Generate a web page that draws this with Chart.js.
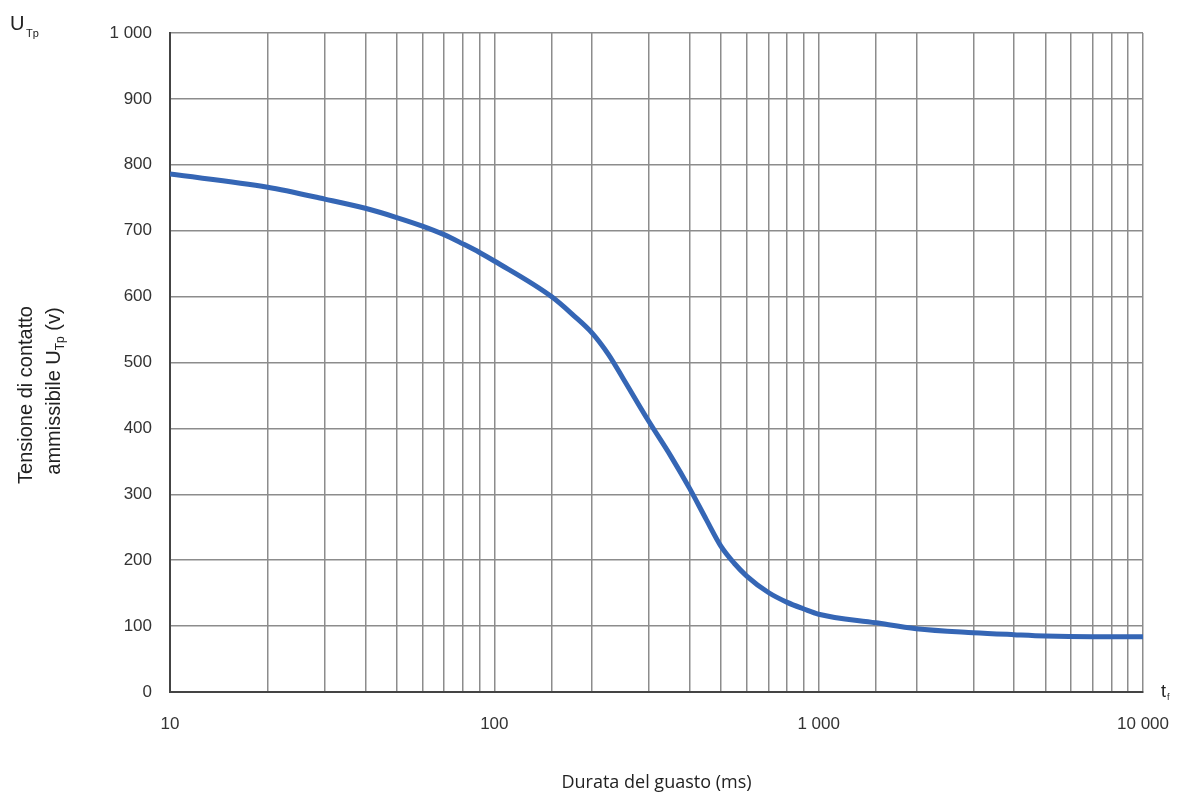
<!DOCTYPE html>
<html lang="it">
<head>
<meta charset="utf-8">
<title>Tensione di contatto ammissibile</title>
<script src="https://cdn.jsdelivr.net/npm/chart.js@4.4.1/dist/chart.umd.min.js"></script>
<style>
    html, body { margin: 0; padding: 0; background: #fff; }
    #wrap { position: relative; width: 1183px; height: 798px; }
</style>
</head>
<body>
<div id="wrap"><canvas id="chartUtp"></canvas></div>
<script>
// Data (duration in ms, voltage in V)
const durations = [10, 20, 30, 40, 50, 60, 70, 80, 90, 100, 150, 175, 200, 225, 250, 300, 350, 400, 450, 500, 550, 600, 700, 800, 900, 1000, 1500, 2000, 3000, 4000, 5000, 7000, 10000];
const voltages = [786, 766, 748, 734, 720, 707, 694, 680, 667, 654, 600, 572, 545, 512, 475, 410, 358, 309, 262, 221, 195, 176, 151, 136, 126, 118, 105, 96, 90, 87, 85, 84, 84];

// Axis labels
const decadeTicks = [10, 100, 1000, 10000];
const xTitle = 'Durata del guasto (ms)';
const yTitleLine1 = 'Tensione di contatto';
const yTitleLine2 = 'ammissibile U';
const yTitleSub = 'Tp';
const yTitleEnd = ' (v)';

const gridColor = '#8c8c8c';
const tickColor = '#333';

// thousands with a space: 1 000, 10 000
function formatNum(v) {
    return String(v).replace(/\B(?=(\d{3})+(?!\d))/g, ' ');
}

// Extra labels: U_Tp top left, t_f at the axis end, rotated y title
const extraLabels = {
    id: 'extraLabels',
    afterDraw(chart) {
        const ctx = chart.ctx;
        const area = chart.chartArea;
        const fMain = '20px "Liberation Sans", Arial, sans-serif';
        const fSub = '12px "Liberation Sans", Arial, sans-serif';

        ctx.save();
        ctx.fillStyle = '#222';
        ctx.textBaseline = 'alphabetic';
        ctx.textAlign = 'left';

        // U_Tp
        ctx.font = fMain;
        ctx.fillText('U', 10, 30);
        ctx.font = '11px "Liberation Sans", Arial, sans-serif';
        ctx.fillText('Tp', 26, 37);

        // t_f
        ctx.font = '18px "Liberation Sans", Arial, sans-serif';
        ctx.fillText('t', area.right + 18, area.bottom + 5);
        ctx.font = '9px "Liberation Sans", Arial, sans-serif';
        ctx.fillText('f', area.right + 24, area.bottom + 8);
        ctx.restore();

        // y title, line 1
        ctx.save();
        ctx.fillStyle = '#222';
        ctx.translate(32, 395);
        ctx.rotate(-Math.PI / 2);
        ctx.textAlign = 'center';
        ctx.font = fMain;
        ctx.fillText(yTitleLine1, 0, 0);
        ctx.restore();

        // y title, line 2 with subscript
        ctx.save();
        ctx.fillStyle = '#222';
        ctx.font = fMain;
        const w1 = ctx.measureText(yTitleLine2).width;
        const w3 = ctx.measureText(yTitleEnd).width;
        ctx.font = fSub;
        const w2 = ctx.measureText(yTitleSub).width;
        ctx.translate(60, 391 + (w1 + w2 + w3) / 2);
        ctx.rotate(-Math.PI / 2);
        ctx.textAlign = 'left';
        ctx.font = fMain;
        ctx.fillText(yTitleLine2, 0, 0);
        ctx.font = fSub;
        ctx.fillText(yTitleSub, w1, 4);
        ctx.font = fMain;
        ctx.fillText(yTitleEnd, w1 + w2, 0);
        ctx.restore();
    }
};

const points = durations.map((d, i) => ({ x: d, y: voltages[i] }));

const ctxUtp = document.getElementById('chartUtp').getContext('2d');
const chartUtp = new Chart(ctxUtp, {
    type: 'line',
    data: {
        datasets: [{
            label: 'UTp',
            data: points,
            borderColor: '#3566b5',
            borderWidth: 5,
            pointRadius: 0,
            cubicInterpolationMode: 'monotone',
            fill: false
        }]
    },
    options: {
        responsive: true,
        maintainAspectRatio: false,
        animation: false,
        layout: { padding: { top: 33, right: 40, left: 0, bottom: 0 } },
        plugins: {
            legend: { display: false },
            tooltip: { enabled: false }
        },
        scales: {
            x: {
                type: 'logarithmic',
                min: 10,
                max: 10000,
                afterFit: (scale) => {
                    scale.height = 106;
                    scale.paddingLeft = 0;
                    scale.paddingRight = 0;
                },
                border: { display: true, color: '#444', width: 2 },
                grid: { color: gridColor, lineWidth: 1.5, drawTicks: false },
                ticks: {
                    autoSkip: false,
                    maxRotation: 0,
                    padding: 22,
                    color: tickColor,
                    font: { family: '"Liberation Sans", Arial, sans-serif', size: 17 },
                    major: { enabled: false },
                    callback: (v) => decadeTicks.includes(v) ? formatNum(v) : ''
                },
                title: {
                    display: true,
                    text: xTitle,
                    color: '#222',
                    padding: { top: 30 },
                    font: { family: '"Open Sans", sans-serif', size: 18 }
                }
            },
            y: {
                min: 0,
                max: 1000,
                afterFit: (scale) => { scale.width = 170; },
                border: { display: true, color: '#444', width: 2 },
                grid: { color: gridColor, lineWidth: 1.5, drawTicks: false },
                ticks: {
                    stepSize: 100,
                    padding: 18,
                    color: tickColor,
                    font: { family: '"Liberation Sans", Arial, sans-serif', size: 17 },
                    callback: (v) => formatNum(v)
                }
            }
        }
    },
    plugins: [extraLabels]
});
</script>
</body>
</html>
